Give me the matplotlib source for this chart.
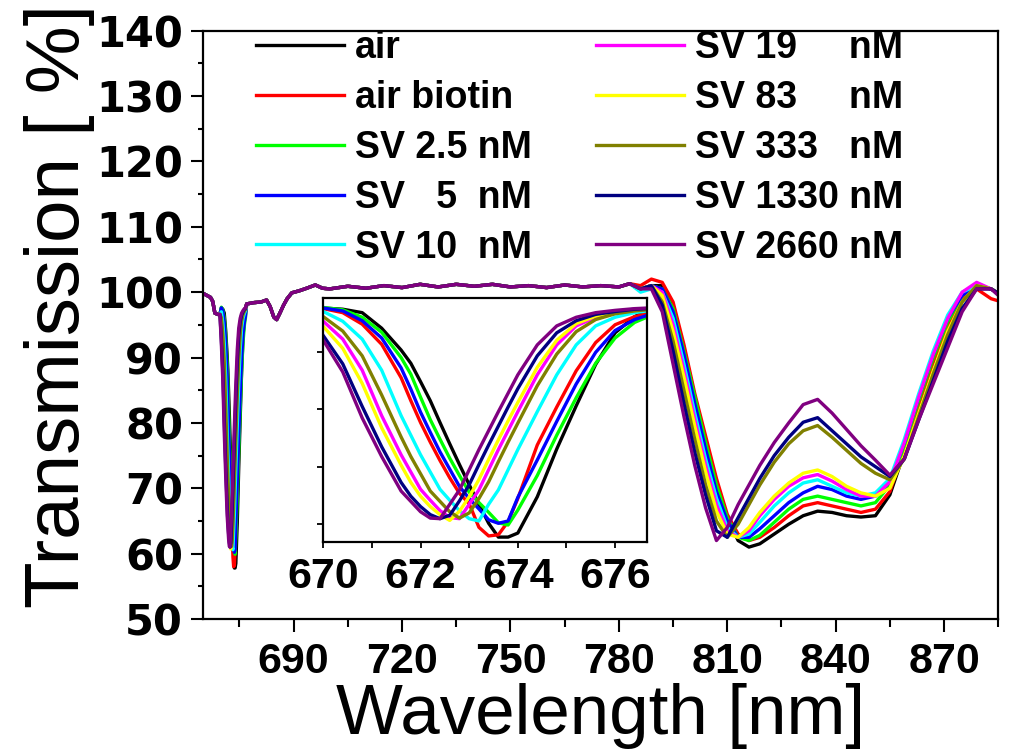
import matplotlib
matplotlib.use("Agg")
import matplotlib.pyplot as plt
from matplotlib.ticker import MultipleLocator, FixedLocator, NullFormatter

# ---------------- data ----------------
labels = ["air", "air biotin", "SV 2.5 nM", "SV   5  nM", "SV 10  nM",
          "SV 19     nM", "SV 83     nM", "SV 333   nM", "SV 1330 nM", "SV 2660 nM"]
colors = ["#000000", "#FF0000", "#00FF00", "#0000FF", "#00FFFF",
          "#FF00FF", "#FFFF00", "#808000", "#000080", "#800080"]

# common part before the 673 nm dip
wl_pre = [665.0, 666.0, 667.0, 667.6, 668.2, 669.0, 669.6]
T_pre = [99.8, 99.5, 99.2, 98.6, 96.8, 96.6, 96.6]

# 673 nm dip (also shown in the inset)
wl_in = [670.0, 670.4, 670.8, 671.2, 671.6, 671.8, 672.0, 672.2, 672.4, 672.6,
         672.8, 673.0, 673.2, 673.4, 673.6, 673.8, 674.0, 674.4, 674.8, 675.2,
         675.6, 676.0, 676.4, 676.65]
dip_air = [97.6, 97.4, 96.8, 94.1, 90.3, 88.0, 84.8, 81.5, 77.7, 74.0, 70.4, 66.9,
           63.5, 60.2, 57.8, 57.8, 58.5, 64.8, 73.1, 80.6, 87.8, 93.3, 96.1, 97.2]
dip_biotin = [97.5, 96.8, 94.8, 91.3, 85.5, 81.5, 77.7, 74.3, 71.1, 68.1, 65.4, 63.6,
              59.5, 58.0, 58.2, 60.5, 64.5, 73.8, 80.4, 86.7, 91.6, 94.7, 96.1, 96.6]
dip_sv2_5 = [97.7, 97.3, 96.0, 93.4, 89.0, 86.1, 82.1, 78.2, 74.8, 71.5, 68.5, 65.6,
             63.8, 62.1, 60.3, 59.9, 62.5, 68.5, 75.5, 82.0, 88.0, 92.4, 95.1, 96.0]
dip_sv5 = [97.6, 97.1, 95.4, 92.4, 87.2, 83.5, 79.5, 76.0, 72.6, 69.6, 66.6, 64.5,
           62.7, 60.8, 60.2, 60.6, 64.7, 71.2, 77.9, 84.4, 89.9, 93.7, 95.6, 96.3]
dip_sv10 = [97.0, 95.3, 92.2, 86.8, 78.9, 75.5, 72.1, 69.1, 66.1, 64.2, 62.4, 61.0,
            60.6, 63.5, 66.0, 69.5, 73.0, 79.6, 86.0, 91.2, 94.5, 96.0, 96.8, 97.1]
dip_sv19 = [95.3, 92.2, 86.8, 78.9, 72.1, 69.1, 66.1, 64.2, 62.4, 61.2, 61.0, 63.5,
            66.0, 69.5, 73.0, 76.3, 79.6, 86.0, 91.2, 94.5, 96.0, 96.8, 97.2, 97.4]
dip_sv83 = [94.4, 90.6, 84.5, 76.8, 70.3, 67.3, 64.9, 63.1, 61.7, 60.7, 62.3, 64.8,
            67.8, 71.3, 74.7, 78.0, 81.2, 87.3, 92.0, 94.9, 96.2, 96.9, 97.3, 97.5]
dip_sv333 = [96.1, 93.6, 89.3, 82.5, 75.2, 71.8, 68.8, 65.8, 64.0, 62.2, 61.1, 62.0,
             64.5, 67.4, 70.9, 74.3, 77.6, 84.1, 89.6, 93.5, 95.6, 96.6, 97.1, 97.3]
dip_sv1330 = [92.8, 87.9, 80.5, 73.5, 67.3, 64.9, 63.1, 61.7, 61.0, 61.6, 64.1, 66.9,
              70.4, 73.8, 77.1, 80.4, 83.6, 89.3, 93.3, 95.4, 96.5, 97.0, 97.4, 97.5]
dip_sv2660 = [92.0, 86.5, 78.5, 71.8, 65.8, 64.0, 62.2, 61.1, 61.0, 63.5, 66.0, 69.5,
              73.0, 76.3, 79.6, 82.8, 86.0, 91.2, 94.5, 96.0, 96.8, 97.2, 97.5, 97.6]

# common plateau after the dip
wl_post = [677.0, 679.0, 681.0, 682.5, 683.5, 684.5, 685.3, 686.2, 687.2, 688.2,
           689.5, 691.5, 693.6, 696.0, 698.0, 700.0, 705.0, 710.0, 715.0, 720.0,
           725.0, 730.0, 735.0, 740.0, 745.0, 750.0, 755.0, 760.0, 765.0, 770.0,
           775.0, 780.0, 783.0]
T_post = [98.2, 98.4, 98.5, 98.8, 97.8, 96.2, 95.8, 96.8, 98.0, 99.0,
          99.9, 100.2, 100.6, 101.1, 100.6, 100.5, 100.9, 100.6, 101.0, 100.7,
          101.2, 100.8, 101.2, 100.9, 101.2, 100.8, 101.0, 100.7, 101.1, 100.8,
          101.0, 100.8, 101.3]

# 780-885 nm region
wl_right = [786, 789, 792, 795, 798, 801, 804, 807, 810, 813, 816, 819, 823, 827,
            831, 835, 839, 843, 847, 851, 855, 859, 863, 867, 871, 875, 879, 883, 886]
r_air = [100.5, 101, 101, 98, 91.5, 84, 77.5, 71, 65.5, 62, 61, 61.5, 63, 64.5, 65.8,
         66.5, 66.3, 65.8, 65.6, 65.8, 69, 75.5, 82.5, 89, 95, 99, 101, 100.5, 99.5]
r_biotin = [101, 102, 101.5, 98.5, 92, 84.5, 78, 71.5, 66, 63, 62, 62.5, 64, 65.8, 67.3,
            67.8, 67.3, 66.8, 66.3, 66.8, 69.5, 76, 83, 89.5, 95, 99, 100.5, 99, 98.5]
r_sv2_5 = [100.5, 101, 100.5, 97.5, 91, 84, 77, 70.5, 65.5, 62.5, 62, 62.8, 64.8, 66.8,
           68.3, 68.8, 68.3, 67.8, 67.3, 67.8, 70.5, 76.5, 83.5, 90, 95.5, 99.5, 101, 100.5, 99.5]
r_sv5 = [100.5, 101, 100.5, 97, 90.5, 83, 76, 69.5, 65, 62.5, 62.5, 63.8, 65.8, 67.8,
         69.3, 70.3, 69.8, 68.8, 68.3, 68.8, 71, 77, 84, 90.5, 96, 99.5, 101, 100.5, 99.5]
r_sv10 = [100, 100.5, 100, 96, 89, 81.5, 74.5, 68.5, 64, 62.5, 63, 64.8, 67.3, 69.3,
          70.8, 71.3, 70.3, 69.3, 68.8, 69.3, 71.5, 77.5, 84.5, 91, 96.5, 100, 101, 100.5, 99.5]
r_sv19 = [100.5, 101, 100, 95, 88, 80.5, 73.5, 67.5, 63.5, 62.5, 63.5, 65.8, 68.3, 70.3,
          71.6, 72.1, 71.1, 69.8, 68.8, 68.8, 71, 77, 84, 90.5, 96, 100, 101.5, 100.5, 99.5]
r_sv83 = [100.5, 101, 99.5, 94, 87, 79.5, 72.5, 66.5, 63, 62.5, 64, 66.3, 68.8, 70.8,
          72.3, 72.8, 71.8, 70.3, 69.3, 68.8, 70, 75, 81.5, 88, 94, 98.5, 101, 100.5, 99.5]
r_sv333 = [100.5, 101, 98.5, 92.5, 85, 77.5, 70.5, 65, 62.5, 64.5, 67.5, 70.5, 74, 76.8,
           78.8, 79.6, 77.8, 75.8, 73.8, 72.3, 71.3, 74.5, 81, 87.5, 93.5, 98.5, 101, 100.5, 99.5]
r_sv1330 = [100.5, 101, 98, 91, 83, 75.5, 69, 63.5, 62.5, 65.5, 68.5, 71.5, 75, 77.8,
            80.1, 80.8, 78.8, 76.8, 74.8, 73.3, 71.8, 74.5, 80.5, 86.5, 92.5, 97.5, 100.5, 100.5, 99.5]
r_sv2660 = [100.5, 100.5, 97, 89, 81, 73.5, 67, 62, 64, 67.5, 70.5, 73.5, 77, 80,
            82.8, 83.6, 81.5, 79, 76.5, 74.3, 72, 74.5, 80.5, 86, 91.5, 97, 100.5, 100.5, 99]

dips = [dip_air, dip_biotin, dip_sv2_5, dip_sv5, dip_sv10,
        dip_sv19, dip_sv83, dip_sv333, dip_sv1330, dip_sv2660]
rights = [r_air, r_biotin, r_sv2_5, r_sv5, r_sv10,
          r_sv19, r_sv83, r_sv333, r_sv1330, r_sv2660]

x_ticks_main = [690, 720, 750, 780, 810, 840, 870]
x_ticks_inset = [670, 672, 674, 676]

# ---------------- figure ----------------
W, H = 1015, 754
fig = plt.figure(figsize=(W / 100, H / 100), dpi=100)
ax = fig.add_axes([203.3 / W, 1 - 619 / H, 795 / W, 588.3 / H])

LW = 2.4
for lab, col, dip, rr in zip(labels, colors, dips, rights):
    wl = wl_pre + wl_in + wl_post + wl_right
    T = T_pre + dip + T_post + rr
    ax.plot(wl, T, color=col, lw=LW, label=lab, solid_joinstyle="round")

ax.set_xlim(665, 885)
ax.set_ylim(50, 140)
ax.xaxis.set_major_locator(FixedLocator(x_ticks_main))
ax.xaxis.set_minor_locator(MultipleLocator(15))
ax.yaxis.set_major_locator(MultipleLocator(10))
ax.yaxis.set_minor_locator(MultipleLocator(5))
for s in ax.spines.values():
    s.set_linewidth(1.6)
ax.tick_params(axis="x", which="major", direction="out", length=9.5, width=1.5, pad=7)
ax.tick_params(axis="x", which="minor", direction="out", length=6, width=1.5)
ax.tick_params(axis="y", which="major", direction="out", length=8.6, width=1.5, pad=6)
ax.tick_params(axis="y", which="minor", direction="out", length=3.6, width=1.5)
for t in ax.get_xticklabels():
    t.set_fontfamily("Liberation Sans")
    t.set_fontweight("bold")
    t.set_fontsize(31)
for t in ax.get_yticklabels():
    t.set_fontfamily("DejaVu Sans")
    t.set_fontweight("bold")
    t.set_fontsize(30)

fig.text(60 / W, 1 - 306 / H, "Transmission [ %]", rotation=90, ha="center",
         va="center", fontsize=55, family="Liberation Sans")
fig.text(600 / W, 1 - 716 / H, "Wavelength [nm]", ha="center", va="center",
         fontsize=51, family="Liberation Sans")

leg = ax.legend(loc="upper left", bbox_to_anchor=(256 / W, 1 - 30 / H),
                bbox_transform=fig.transFigure, ncol=2, frameon=False,
                prop={"family": "Liberation Sans", "weight": "bold", "size": 27},
                handlelength=2.35, handletextpad=0.28, columnspacing=1.72,
                labelspacing=0.37, borderpad=0, borderaxespad=0)
for l in leg.get_lines():
    l.set_linewidth(2.4)

# ---------------- inset ----------------
axi = fig.add_axes([323.3 / W, 1 - 541.7 / H, 323.4 / W, 244 / H])
axi.set_facecolor("white")
for col, dip in zip(colors, dips):
    axi.plot(wl_in, dip, color=col, lw=LW, solid_joinstyle="round")
axi.set_xlim(670, 676.65)
axi.set_ylim(57, 99.4)
axi.xaxis.set_major_locator(FixedLocator(x_ticks_inset))
axi.xaxis.set_minor_locator(MultipleLocator(1))
axi.yaxis.set_major_locator(FixedLocator([60, 70, 80, 90]))
axi.yaxis.set_major_formatter(NullFormatter())
for s in axi.spines.values():
    s.set_linewidth(1.6)
axi.tick_params(axis="both", which="both", direction="out", length=4, width=1.3)
axi.tick_params(axis="x", which="major", pad=7)
for t in axi.get_xticklabels():
    t.set_fontfamily("Liberation Sans")
    t.set_fontweight("bold")
    t.set_fontsize(31)

fig.savefig("out.png", dpi=100)
